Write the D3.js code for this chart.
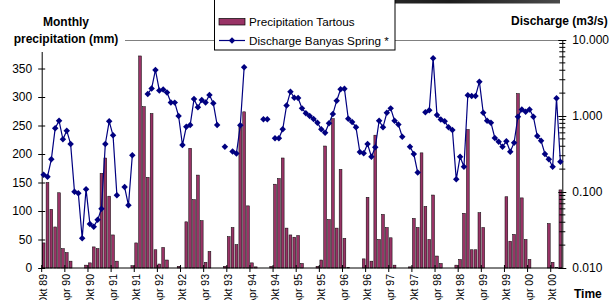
<html>
<head>
    <meta charset="utf-8">
    <title>Tartous / Banyas</title>
    <script src="https://cdn.jsdelivr.net/npm/d3@7"></script>
    <style>
        body { margin: 0; background: #fff; }
        text { font-family: "Liberation Sans", Arial, sans-serif; }
    </style>
</head>
<body>
<div id="main-svg"></div>
<script>
    // monthly values, Okt 89 .. Dez 00 (135 months)
    var monthNames = ["Okt", "Nov", "Dez", "Jan", "Feb", "Mrz", "Apr", "Mai", "Jun", "Jul", "Aug", "Sep"];
    var tickLabels = ["Okt 89", "Apr 90", "Okt 90", "Apr 91", "Okt 91", "Apr 92", "Okt 92", "Apr 93",
        "Okt 93", "Apr 94", "Okt 94", "Apr 95", "Okt 95", "Apr 96", "Okt 96", "Apr 97", "Okt 97",
        "Apr 98", "Okt 98", "Apr 99", "Okt 99", "Apr 00", "Okt 00"];

    var precipitation = [
        44, 150, 103, 72, 132, 34, 27, 12, 0, 0, 0, 5,
        9, 37, 34, 166, 193, 126, 58, 12, 0, 0, 0, 4,
        44, 372, 283, 159, 271, 32, 7, 36, 14, 0, 0, 3,
        0, 81, 210, 120, 163, 83, 10, 29, 0, 0, 0, 3,
        55, 71, 41, 251, 274, 109, 9, 2, 0, 0, 0, 3,
        147, 157, 193, 70, 58, 54, 57, 8, 0, 0, 0, 3,
        14, 214, 85, 262, 70, 173, 52, 1, 0, 0, 0, 16,
        124, 12, 233, 50, 94, 71, 53, 5, 0, 0, 0, 2,
        87, 71, 202, 108, 50, 128, 21, 8, 0, 0, 0, 5,
        15, 96, 243, 32, 32, 97, 71, 0, 0, 0, 0, 0,
        125, 47, 59, 306, 123, 50, 15, 0, 0, 0, 0, 78,
        10, 1, 137
    ];

    var discharge = [
        0.169, 0.159, 0.269, 0.689, 0.867, 0.494, 0.641, 0.428, 0.101, 0.096, 0.0246, 0.109,
        0.038, 0.035, 0.043, 0.060, 0.428, 0.851, 0.557, 0.0905, null, 0.116, 0.0668, 0.304,
        null, null, null, 1.95, 2.30, 4.03, 2.17, 2.23, 2.04, 1.51, 1.50, 1.00,
        0.415, 0.723, 0.761, 1.67, 1.30, 1.62, 1.51, 1.89, 1.47, 0.761, null, 0.395,
        null, 0.341, 0.321, 0.755, 4.37, null, null, null, null, 0.905, 0.905, null,
        0.509, 0.509, 0.668, 1.37, 2.09, 1.74, 1.72, 1.26, 1.09, 1.00, 0.913, 0.816,
        0.668, 0.603, 0.802, 1.06, 1.59, 2.25, 2.29, 0.921, 0.834, 0.710, 0.336, 0.323,
        0.428, 0.291, 0.388, 0.867, 0.710, 1.10, 1.26, 0.867, 0.773, 0.534, null, 0.395,
        0.316, 0.180, null, 1.12, 1.19, 5.74, 1.03, 0.899, 0.851, 0.710, 0.654, 0.147,
        0.291, 0.215, 1.87, 1.83, 1.83, 2.83, 1.10, 0.867, 0.816, 0.514, 0.459, 0.395,
        0.466, 0.339, 0.446, 0.979, 1.22, 1.14, 1.22, 0.979, 0.545, 0.473, 0.316, 0.269,
        0.215, 1.71, 0.250
    ];

    var leftTicks = [0, 50, 100, 150, 200, 250, 300, 350];
    var rightTicks = [0.01, 0.1, 1, 10];

    var months = precipitation.map(function (d, i) {
        var yr = (89 + Math.floor((i + 9) / 12)) % 100;
        return monthNames[i % 12] + " " + (yr < 10 ? "0" + yr : yr);
    });

    function drawChart() {
        var width = 610, height = 300;
        var left = 41.7, right = 562.3, top = 40, bottom = 268;

        var svg = d3.select("#main-svg").append("svg")
            .attr("width", width).attr("height", height);

        var x = d3.scaleBand().domain(months).range([left, right])
            .paddingInner(0.28).paddingOuter(0.14);
        var y = d3.scaleLinear().domain([0, 400]).range([bottom, top]);
        var y2 = d3.scaleLog().domain([0.01, 10]).range([bottom, top]);
        var edge = function (m) { return x(m) - x.step() * 0.14; };
        var mid = function (m) { return x(m) + x.bandwidth() / 2; };

        // dark strip at the very top of the scan
        var grad = svg.append("defs").append("linearGradient").attr("id", "strip")
            .attr("x1", 0).attr("x2", 1);
        grad.append("stop").attr("offset", "0%").attr("stop-color", "#3a3a3a");
        grad.append("stop").attr("offset", "60%").attr("stop-color", "#1c1c1c");
        grad.append("stop").attr("offset", "100%").attr("stop-color", "#4a4a4a");
        svg.append("rect").attr("x", 284).attr("y", 0).attr("width", 276).attr("height", 3.5)
            .attr("fill", "url(#strip)");

        // plot area top border
        svg.append("line").attr("x1", left).attr("x2", right).attr("y1", top + 0.5).attr("y2", top + 0.5)
            .attr("stroke", "#808080").attr("stroke-width", 1);

        // bars
        svg.append("g").selectAll("rect").data(precipitation).enter().append("rect")
            .attr("x", function (d, i) { return x(months[i]); })
            .attr("y", function (d) { return y(d); })
            .attr("width", x.bandwidth())
            .attr("height", function (d) { return bottom - y(d); })
            .attr("fill", "#993366")
            .attr("stroke", "#000").attr("stroke-width", 0.5);

        // left axis
        var ax = svg.append("g").attr("transform", "translate(" + left + ",0)")
            .call(d3.axisLeft(y).tickValues(leftTicks).tickSize(3.5).tickSizeOuter(0).tickPadding(6));
        ax.selectAll(".tick line").attr("x1", 3.5).attr("stroke", "#000");
        ax.select(".domain").attr("stroke", "#000");
        ax.selectAll("text").attr("font-size", "12px").attr("fill", "#000")
            .style("font-family", "Liberation Sans, Arial, sans-serif");

        // right axis (log)
        var ar = svg.append("g").attr("transform", "translate(" + right + ",0)")
            .call(d3.axisRight(y2).tickValues(rightTicks).tickFormat(d3.format(".3f"))
                .tickSize(4).tickSizeOuter(0).tickPadding(6));
        ar.selectAll(".tick line").attr("x1", -4).attr("stroke", "#000");
        ar.select(".domain").attr("stroke", "#000");
        ar.selectAll("text").attr("font-size", "12px").attr("fill", "#000")
            .style("font-family", "Liberation Sans, Arial, sans-serif");
        var minor = [];
        [0.01, 0.1, 1].forEach(function (dec) {
            for (var k = 2; k <= 9; k++) minor.push(dec * k);
        });
        ar.selectAll(".minor").data(minor).enter().append("line")
            .attr("x1", -3).attr("x2", 3)
            .attr("y1", function (d) { return y2(d); }).attr("y2", function (d) { return y2(d); })
            .attr("stroke", "#000");

        // x axis
        svg.append("line").attr("x1", left).attr("x2", right).attr("y1", bottom).attr("y2", bottom)
            .attr("stroke", "#000");
        svg.append("g").selectAll("line").data(tickLabels).enter().append("line")
            .attr("x1", function (t) { return edge(t); })
            .attr("x2", function (t) { return edge(t); })
            .attr("y1", bottom - 3).attr("y2", bottom + 4)
            .attr("stroke", "#000");
        svg.append("g").selectAll("text").data(tickLabels).enter().append("text")
            .attr("transform", function (t) {
                return "translate(" + mid(t) + "," + (bottom + 6) + ") rotate(-90)";
            })
            .attr("dy", "0.35em")
            .attr("text-anchor", "end")
            .attr("font-size", "10.5px")
            .text(function (t) { return t; });

        // discharge line with gaps for missing months
        var points = discharge.map(function (v, i) { return { m: months[i], v: v }; });
        var line = d3.line()
            .defined(function (d) { return d.v != null; })
            .x(function (d) { return mid(d.m); })
            .y(function (d) { return y2(d.v); });
        svg.append("path").datum(points)
            .attr("d", line)
            .attr("fill", "none").attr("stroke", "#000080").attr("stroke-width", 1.2);
        var diamond = d3.symbol().type(d3.symbolSquare).size(21);
        svg.append("g").selectAll("path")
            .data(points.filter(function (d) { return d.v != null; }))
            .enter().append("path")
            .attr("d", diamond)
            .attr("transform", function (d) {
                return "translate(" + mid(d.m) + "," + y2(d.v) + ") rotate(45)";
            })
            .attr("fill", "#000080");

        // titles (white background hides the axis top, as in the original)
        svg.append("rect").attr("x", 6).attr("y", 8).attr("width", 119).attr("height", 44).attr("fill", "#fff");
        svg.append("text").attr("x", 66).attr("y", 26).attr("text-anchor", "middle")
            .attr("font-size", "12px").attr("font-weight", "bold").text("Monthly");
        svg.append("text").attr("x", 66).attr("y", 43).attr("text-anchor", "middle")
            .attr("font-size", "12px").attr("font-weight", "bold").text("precipitation (mm)");
        svg.append("text").attr("x", 511).attr("y", 25)
            .attr("font-size", "12px").attr("font-weight", "bold").text("Discharge (m3/s)");
        svg.append("text").attr("x", 574).attr("y", 298)
            .attr("font-size", "12px").attr("font-weight", "bold").text("Time");

        // legend
        var lg = svg.append("g");
        lg.append("rect").attr("x", 214.5).attr("y", -1).attr("width", 180.5).attr("height", 51)
            .attr("fill", "#fff").attr("stroke", "#000").attr("stroke-width", 1);
        lg.append("rect").attr("x", 219).attr("y", 18.5).attr("width", 26).attr("height", 6.5)
            .attr("fill", "#993366").attr("stroke", "#000").attr("stroke-width", 0.7);
        lg.append("text").attr("x", 249).attr("y", 26).attr("font-size", "11.7px").text("Precipitation Tartous");
        lg.append("line").attr("x1", 219).attr("x2", 245).attr("y1", 40.5).attr("y2", 40.5)
            .attr("stroke", "#000080").attr("stroke-width", 1.2);
        lg.append("path").attr("d", diamond).attr("transform", "translate(232,40.5) rotate(45)")
            .attr("fill", "#000080");
        lg.append("text").attr("x", 249).attr("y", 45).attr("font-size", "11.7px").text("Discharge Banyas Spring *");
    }

    drawChart();
</script>
</body>
</html>
